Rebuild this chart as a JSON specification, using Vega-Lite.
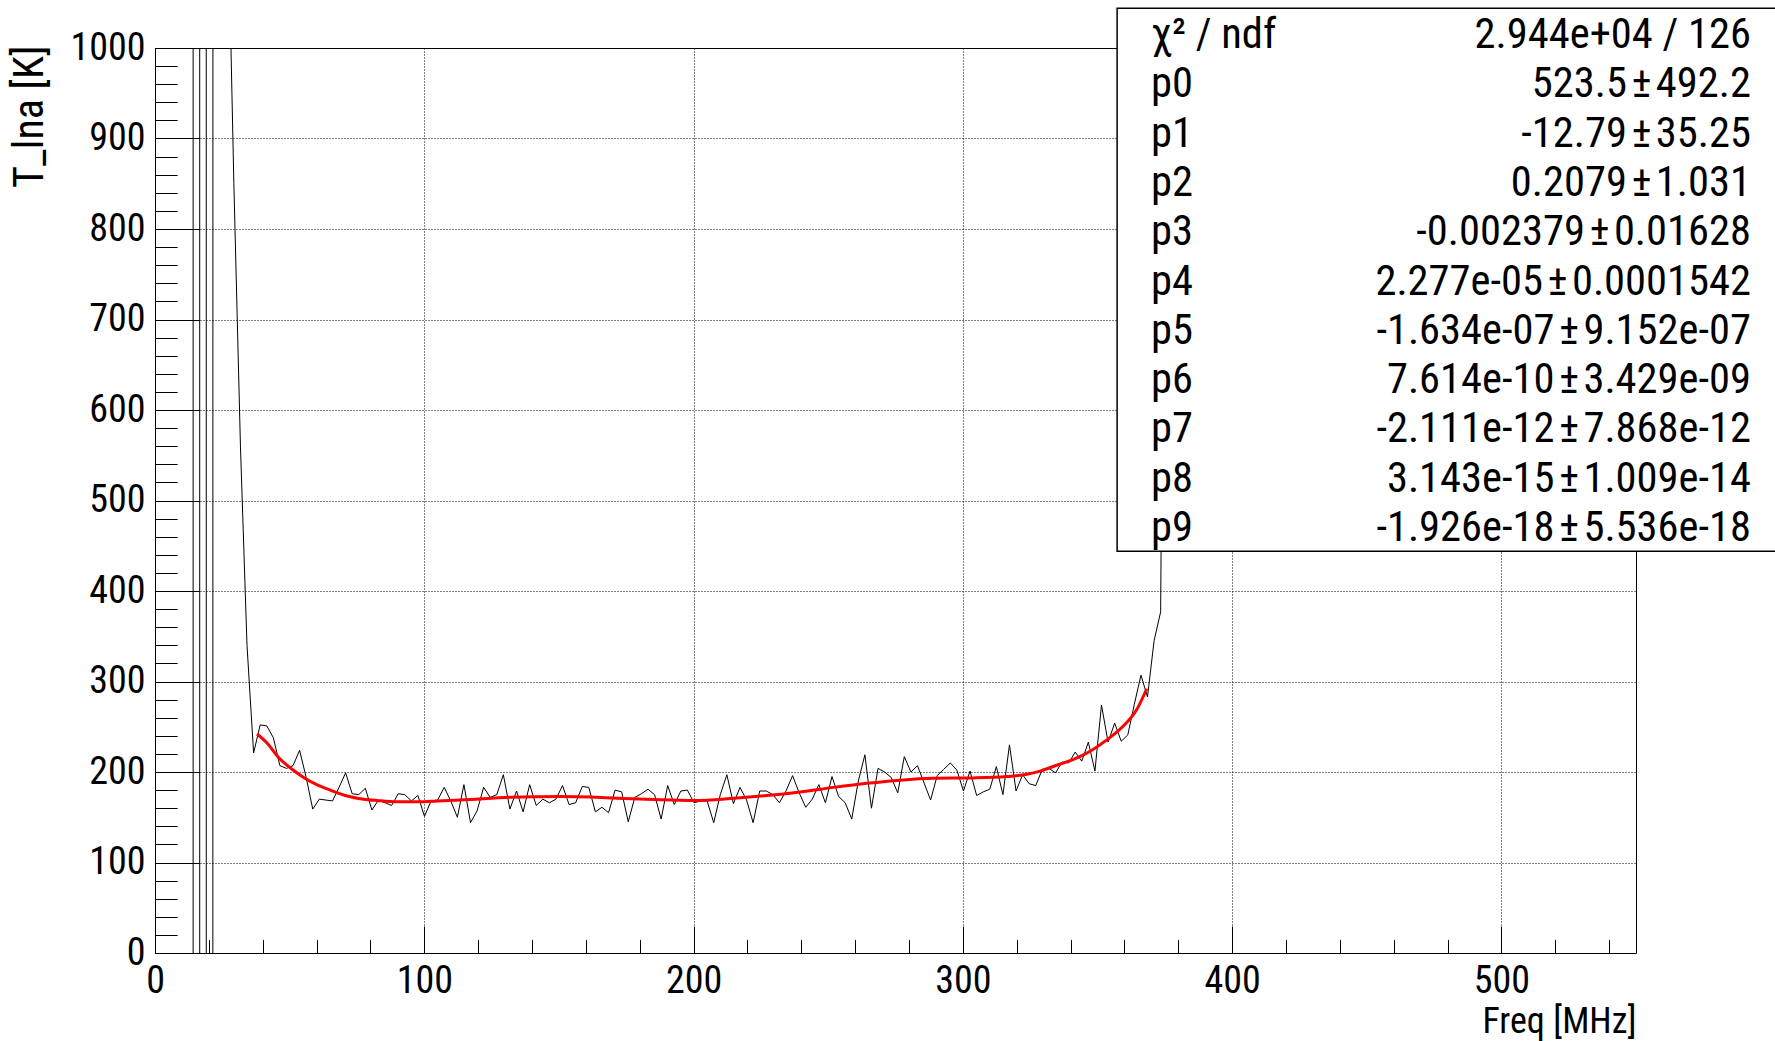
{
  "$schema": "https://vega.github.io/schema/vega-lite/v6.json",
  "width": 1481,
  "height": 905,
  "autosize": {"type": "none"},
  "padding": {"left": 155, "top": 48, "right": 139, "bottom": 88},
  "background": "#ffffff",
  "config": {
    "view": {"stroke": "#000000", "strokeWidth": 1},
    "font": "'Liberation Sans Narrow', 'Arial Narrow', 'Roboto Condensed', 'DejaVu Sans Condensed', 'Liberation Sans', sans-serif",
    "axis": {"labelFont": "'Liberation Sans Narrow', 'Arial Narrow', 'Roboto Condensed', 'DejaVu Sans Condensed', 'Liberation Sans', sans-serif", "titleFont": "'Liberation Sans Narrow', 'Arial Narrow', 'Roboto Condensed', 'DejaVu Sans Condensed', 'Liberation Sans', sans-serif", "labelColor": "#000", "titleColor": "#000", "titleFontWeight": "normal"}
  },
  "datasets": {
    "tlna": [
      {"freq": 9.77, "T": 5120000}, {"freq": 12.21, "T": 5120000}, {"freq": 14.65, "T": -1280000}, {"freq": 17.09, "T": 320000},
      {"freq": 19.53, "T": -80000}, {"freq": 21.97, "T": 20000}, {"freq": 24.41, "T": 3000}, {"freq": 26.85, "T": 1190},
      {"freq": 29.29, "T": 850}, {"freq": 31.73, "T": 560}, {"freq": 34.17, "T": 340}, {"freq": 36.62, "T": 221},
      {"freq": 39.06, "T": 252}, {"freq": 41.50, "T": 251}, {"freq": 43.94, "T": 238}, {"freq": 46.38, "T": 207},
      {"freq": 48.82, "T": 204}, {"freq": 51.26, "T": 207}, {"freq": 53.70, "T": 224}, {"freq": 56.14, "T": 194},
      {"freq": 58.58, "T": 159}, {"freq": 61.03, "T": 170}, {"freq": 63.47, "T": 169}, {"freq": 65.91, "T": 168},
      {"freq": 68.35, "T": 183}, {"freq": 70.79, "T": 199}, {"freq": 73.23, "T": 176}, {"freq": 75.67, "T": 175},
      {"freq": 78.11, "T": 182}, {"freq": 80.55, "T": 158}, {"freq": 82.99, "T": 169}, {"freq": 85.44, "T": 166},
      {"freq": 87.88, "T": 163}, {"freq": 90.32, "T": 176}, {"freq": 92.76, "T": 175}, {"freq": 95.20, "T": 168},
      {"freq": 97.64, "T": 174}, {"freq": 100.08, "T": 151}, {"freq": 102.52, "T": 168}, {"freq": 104.96, "T": 169},
      {"freq": 107.40, "T": 183}, {"freq": 109.85, "T": 168}, {"freq": 112.29, "T": 150}, {"freq": 114.73, "T": 186},
      {"freq": 117.17, "T": 144}, {"freq": 119.61, "T": 157}, {"freq": 122.05, "T": 183}, {"freq": 124.49, "T": 172},
      {"freq": 126.93, "T": 175}, {"freq": 129.37, "T": 197}, {"freq": 131.81, "T": 159}, {"freq": 134.26, "T": 179},
      {"freq": 136.70, "T": 156}, {"freq": 139.14, "T": 186}, {"freq": 141.58, "T": 163}, {"freq": 144.02, "T": 170},
      {"freq": 146.46, "T": 166}, {"freq": 148.90, "T": 170}, {"freq": 151.34, "T": 185}, {"freq": 153.78, "T": 164},
      {"freq": 156.22, "T": 166}, {"freq": 158.67, "T": 184}, {"freq": 161.11, "T": 183}, {"freq": 163.55, "T": 156},
      {"freq": 165.99, "T": 161}, {"freq": 168.43, "T": 155}, {"freq": 170.87, "T": 180}, {"freq": 173.31, "T": 178},
      {"freq": 175.75, "T": 145}, {"freq": 178.19, "T": 172}, {"freq": 180.63, "T": 176}, {"freq": 183.08, "T": 181},
      {"freq": 185.52, "T": 175}, {"freq": 187.96, "T": 148}, {"freq": 190.40, "T": 185}, {"freq": 192.84, "T": 164},
      {"freq": 195.28, "T": 179}, {"freq": 197.72, "T": 180}, {"freq": 200.16, "T": 166}, {"freq": 202.60, "T": 168},
      {"freq": 205.05, "T": 168}, {"freq": 207.49, "T": 144}, {"freq": 209.93, "T": 175}, {"freq": 212.37, "T": 197},
      {"freq": 214.81, "T": 165}, {"freq": 217.25, "T": 183}, {"freq": 219.69, "T": 169}, {"freq": 222.13, "T": 144},
      {"freq": 224.57, "T": 179}, {"freq": 227.01, "T": 179}, {"freq": 229.46, "T": 175}, {"freq": 231.90, "T": 166},
      {"freq": 234.34, "T": 179}, {"freq": 236.78, "T": 196}, {"freq": 239.22, "T": 177}, {"freq": 241.66, "T": 161},
      {"freq": 244.10, "T": 170}, {"freq": 246.54, "T": 186}, {"freq": 248.98, "T": 166}, {"freq": 251.42, "T": 195},
      {"freq": 253.87, "T": 173}, {"freq": 256.31, "T": 166}, {"freq": 258.75, "T": 148}, {"freq": 261.19, "T": 190},
      {"freq": 263.63, "T": 219}, {"freq": 266.07, "T": 160}, {"freq": 268.51, "T": 204}, {"freq": 270.95, "T": 200},
      {"freq": 273.39, "T": 194}, {"freq": 275.83, "T": 177}, {"freq": 278.27, "T": 217}, {"freq": 280.72, "T": 200},
      {"freq": 283.16, "T": 207}, {"freq": 285.60, "T": 188}, {"freq": 288.04, "T": 169}, {"freq": 290.48, "T": 196},
      {"freq": 292.92, "T": 203}, {"freq": 295.36, "T": 210}, {"freq": 297.80, "T": 202}, {"freq": 300.24, "T": 179},
      {"freq": 302.68, "T": 201}, {"freq": 305.13, "T": 174}, {"freq": 307.57, "T": 178}, {"freq": 310.01, "T": 181},
      {"freq": 312.45, "T": 206}, {"freq": 314.89, "T": 175}, {"freq": 317.33, "T": 230}, {"freq": 319.77, "T": 179},
      {"freq": 322.21, "T": 197}, {"freq": 324.65, "T": 187}, {"freq": 327.09, "T": 185}, {"freq": 329.53, "T": 203},
      {"freq": 331.98, "T": 204}, {"freq": 334.42, "T": 199}, {"freq": 336.86, "T": 211}, {"freq": 339.30, "T": 210},
      {"freq": 341.74, "T": 222}, {"freq": 344.18, "T": 212}, {"freq": 346.62, "T": 233}, {"freq": 349.06, "T": 201},
      {"freq": 351.50, "T": 274}, {"freq": 353.94, "T": 233}, {"freq": 356.39, "T": 254}, {"freq": 358.83, "T": 234},
      {"freq": 361.27, "T": 241}, {"freq": 363.71, "T": 275}, {"freq": 366.15, "T": 307}, {"freq": 368.59, "T": 283},
      {"freq": 371.03, "T": 345}, {"freq": 373.47, "T": 377}, {"freq": 375.91, "T": 1400}, {"freq": 378.35, "T": 3000}
    ],
    "fit": [
      {"freq": 37.9, "T": 242}, {"freq": 41.6, "T": 232}, {"freq": 45.9, "T": 216}, {"freq": 50.9, "T": 203},
      {"freq": 55.2, "T": 194}, {"freq": 60.1, "T": 186}, {"freq": 65.1, "T": 180}, {"freq": 71.3, "T": 173.5},
      {"freq": 77.5, "T": 170}, {"freq": 82.4, "T": 168.5}, {"freq": 89.9, "T": 167}, {"freq": 98.5, "T": 167},
      {"freq": 104.7, "T": 168}, {"freq": 113.4, "T": 169}, {"freq": 131.9, "T": 172}, {"freq": 150.5, "T": 173},
      {"freq": 161.6, "T": 172.5}, {"freq": 171.5, "T": 171}, {"freq": 185.2, "T": 169.5}, {"freq": 200.0, "T": 168.5},
      {"freq": 214.9, "T": 171}, {"freq": 227.2, "T": 174}, {"freq": 239.6, "T": 178}, {"freq": 252.0, "T": 183},
      {"freq": 264.4, "T": 187.5}, {"freq": 276.7, "T": 191}, {"freq": 289.1, "T": 193}, {"freq": 304.0, "T": 193.5},
      {"freq": 316.4, "T": 195}, {"freq": 323.8, "T": 197.5}, {"freq": 328.7, "T": 201}, {"freq": 334.9, "T": 207.5},
      {"freq": 341.1, "T": 214}, {"freq": 347.3, "T": 223}, {"freq": 353.5, "T": 235.5}, {"freq": 359.7, "T": 251},
      {"freq": 364.6, "T": 269}, {"freq": 368.3, "T": 292}
    ],
    "stats": [
      {"name": "χ² / ndf", "value": "2.944e+04 / 126"},
      {"name": "p0", "value": "523.5\u200a±\u200a492.2"},
      {"name": "p1", "value": "-12.79\u200a±\u200a35.25"},
      {"name": "p2", "value": "0.2079\u200a±\u200a1.031"},
      {"name": "p3", "value": "-0.002379\u200a±\u200a0.01628"},
      {"name": "p4", "value": "2.277e-05\u200a±\u200a0.0001542"},
      {"name": "p5", "value": "-1.634e-07\u200a±\u200a9.152e-07"},
      {"name": "p6", "value": "7.614e-10\u200a±\u200a3.429e-09"},
      {"name": "p7", "value": "-2.111e-12\u200a±\u200a7.868e-12"},
      {"name": "p8", "value": "3.143e-15\u200a±\u200a1.009e-14"},
      {"name": "p9", "value": "-1.926e-18\u200a±\u200a5.536e-18"}
    ]
  },
  "layer": [
    {
      "layer": [
        {
          "data": {"name": "tlna"},
          "mark": {"type": "line", "color": "#000000", "strokeWidth": 1, "clip": true},
          "encoding": {
            "x": {
              "field": "freq", "type": "quantitative",
              "scale": {"domain": [0, 550], "nice": false, "zero": false},
              "axis": {
                "values": [0,20,40,60,80,100,120,140,160,180,200,220,240,260,280,300,320,340,360,380,400,420,440,460,480,500,520,540],
                "tickCount": 200, "format": "d",
                "domain": false,
                "tickColor": "#000", "tickWidth": 1,
                "tickSize": {"condition": {"test": "datum.value % 100 === 0", "value": -27}, "value": -13.6},
                "labelExpr": "datum.value % 100 === 0 ? datum.label : ''",
                "labelFontSize": 38, "labelPadding": 36, "labelFlush": false, "labelOverlap": false,
                "grid": true, "gridColor": "#000", "gridDash": [1, 2], "gridWidth": 1,
                "gridOpacity": {"condition": {"test": "datum.value % 100 === 0", "value": 1}, "value": 0},
                "title": "Freq [MHz]", "titleFontSize": 36, "titleAnchor": "end", "titleAlign": "right",
                "titleX": 1481, "titleY": 79, "titleBaseline": "alphabetic"
              }
            },
            "y": {
              "field": "T", "type": "quantitative",
              "scale": {"domain": [0, 1000], "nice": false, "zero": false},
              "axis": {
                "values": [0,20,40,60,80,100,120,140,160,180,200,220,240,260,280,300,320,340,360,380,400,420,440,460,480,500,520,540,560,580,600,620,640,660,680,700,720,740,760,780,800,820,840,860,880,900,920,940,960,980,1000],
                "tickCount": 200, "format": "d",
                "domain": false,
                "tickColor": "#000", "tickWidth": 1,
                "tickSize": {"condition": {"test": "datum.value % 100 === 0", "value": -44.4}, "value": -22.2},
                "labelExpr": "datum.value % 100 === 0 ? datum.label : ''",
                "labelFontSize": 38, "labelPadding": 54.4, "labelOverlap": false, "labelFlush": false,
                "grid": true, "gridColor": "#000", "gridDash": [1, 2], "gridWidth": 1,
                "gridOpacity": {"condition": {"test": "datum.value % 100 === 0", "value": 1}, "value": 0},
                "title": "T_lna [K]", "titleFontSize": 42, "titleAngle": -90, "titleAlign": "right",
                "titleBaseline": "middle", "titleX": -126, "titleY": -3
              }
            }
          }
        },
        {
          "data": {"name": "fit"},
          "mark": {"type": "line", "color": "#ff0000", "strokeWidth": 3, "interpolate": "monotone"},
          "encoding": {
            "x": {"field": "freq", "type": "quantitative"},
            "y": {"field": "T", "type": "quantitative"}
          }
        },
        {
          "data": {"values": [{}]},
          "mark": {"type": "rect", "fill": "#ffffff", "stroke": "#000000", "strokeWidth": 1.5},
          "encoding": {
            "x": {"datum": 357.3}, "x2": {"datum": 640},
            "y": {"datum": 1044}, "y2": {"datum": 444}
          }
        }
      ]
    },
    {
      "data": {"name": "stats"},
      "layer": [
        {
          "mark": {"type": "text", "align": "left", "baseline": "alphabetic", "fontSize": 42.5, "color": "#000"},
          "encoding": {
            "x": {"datum": 369.9},
            "y": {"field": "name", "type": "ordinal", "sort": null, "scale": {"type": "point", "range": [0, 493], "padding": 0}, "axis": null},
            "text": {"field": "name"}
          }
        },
        {
          "mark": {"type": "text", "align": "right", "baseline": "alphabetic", "fontSize": 42.5, "color": "#000"},
          "encoding": {
            "x": {"datum": 592.7},
            "y": {"field": "name", "type": "ordinal", "sort": null, "axis": null},
            "text": {"field": "value"}
          }
        }
      ]
    }
  ],
  "resolve": {"scale": {"y": "independent"}}
}
